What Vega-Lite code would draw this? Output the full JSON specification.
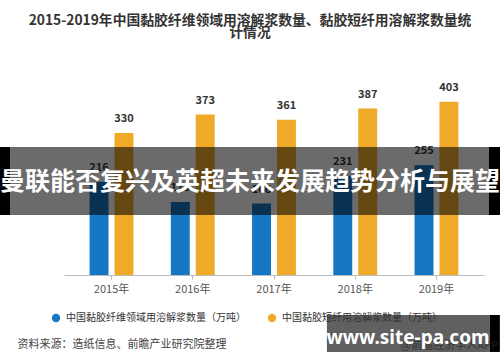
{
  "$schema": "https://vega.github.io/schema/vega-lite/v6.json",
  "width": 420,
  "height": 215,
  "autosize": {"type": "none"},
  "padding": {"left": 64, "top": 60, "right": 16, "bottom": 87},
  "background": "white",
  "config": {
    "font": "Noto Sans CJK SC",
    "view": {"stroke": null}
  },
  "title": {
    "text": ["2015-2019年中国黏胶纤维领域用溶解浆数量、黏胶短纤用溶解浆数量统", "计情况"],
    "fontSize": 13.8,
    "fontWeight": "bold",
    "color": "#333333",
    "anchor": "middle",
    "dx": -24,
    "offset": 20,
    "lineHeight": 12.5
  },
  "datasets": {
    "bars": [
      {"year": "2015年", "series": "中国黏胶纤维领域用溶解浆数量（万吨）", "value": 216},
      {"year": "2016年", "series": "中国黏胶纤维领域用溶解浆数量（万吨）", "value": 170},
      {"year": "2017年", "series": "中国黏胶纤维领域用溶解浆数量（万吨）", "value": 166},
      {"year": "2018年", "series": "中国黏胶纤维领域用溶解浆数量（万吨）", "value": 231},
      {"year": "2019年", "series": "中国黏胶纤维领域用溶解浆数量（万吨）", "value": 255},
      {"year": "2015年", "series": "中国黏胶短纤用溶解浆数量（万吨）", "value": 330},
      {"year": "2016年", "series": "中国黏胶短纤用溶解浆数量（万吨）", "value": 373},
      {"year": "2017年", "series": "中国黏胶短纤用溶解浆数量（万吨）", "value": 361},
      {"year": "2018年", "series": "中国黏胶短纤用溶解浆数量（万吨）", "value": 387},
      {"year": "2019年", "series": "中国黏胶短纤用溶解浆数量（万吨）", "value": 403}
    ]
  },
  "layer": [
    {
      "data": {"name": "bars"},
      "encoding": {
        "x": {
          "field": "year",
          "type": "nominal",
          "scale": {"paddingInner": 0.46, "paddingOuter": 0.315},
          "axis": {
            "title": "资料来源：造纸信息、前瞻产业研究院整理",
            "titleAnchor": "start",
            "titleAlign": "left",
            "titleX": -47,
            "titleY": 69,
            "titleBaseline": "middle",
            "titleFontSize": 11,
            "titleFontWeight": "normal",
            "titleColor": "#444444",
            "labelFontSize": 11,
            "labelColor": "#555555",
            "labelPadding": 4,
            "labelAngle": 0,
            "tickSize": 4,
            "tickColor": "#bbbbbb",
            "domainColor": "#bbbbbb",
            "grid": false
          }
        },
        "xOffset": {
          "field": "series",
          "type": "nominal",
          "sort": ["中国黏胶纤维领域用溶解浆数量（万吨）", "中国黏胶短纤用溶解浆数量（万吨）"],
          "scale": {"paddingInner": 0.24, "paddingOuter": 0}
        },
        "y": {
          "field": "value",
          "type": "quantitative",
          "scale": {"domain": [0, 500], "nice": false},
          "axis": {
            "title": "单位：万吨",
            "values": [0, 100, 200, 300, 400, 500],
            "grid": true,
            "gridColor": "#e2e2e2",
            "domain": false,
            "ticks": false,
            "labelFontSize": 11,
            "labelColor": "#666666",
            "labelPadding": 6,
            "titleFontSize": 10.5,
            "titleFontWeight": "normal",
            "titleColor": "#666666",
            "titlePadding": 7
          }
        },
        "color": {
          "field": "series",
          "type": "nominal",
          "scale": {
            "domain": ["中国黏胶纤维领域用溶解浆数量（万吨）", "中国黏胶短纤用溶解浆数量（万吨）"],
            "range": ["#1677c4", "#f0aa2a"]
          },
          "legend": {
            "orient": "none",
            "legendX": -13,
            "legendY": 253,
            "direction": "horizontal",
            "title": null,
            "symbolType": "circle",
            "symbolSize": 70,
            "symbolStrokeWidth": 0,
            "labelFontSize": 10,
            "labelColor": "#333333",
            "labelLimit": 300,
            "columnPadding": 21,
            "labelOffset": 5
          }
        }
      },
      "layer": [
        {"mark": {"type": "bar"}},
        {
          "mark": {"type": "text", "dy": -9, "fontSize": 11, "fontWeight": "bold", "color": "#333333", "baseline": "bottom"},
          "encoding": {"text": {"field": "value", "type": "quantitative"}, "color": {"value": "#333333"}}
        }
      ]
    },
    {
      "layer": [
        {
          "data": {"values": [{"x0": 0, "x1": 1, "y0": 139.5, "y1": 297.7}]},
          "mark": {"type": "rect", "color": "#000000", "opacity": 0.58, "xOffset": -64, "x2Offset": 16},
          "encoding": {
            "x": {"field": "x0", "type": "quantitative", "scale": {"domain": [0, 1], "nice": false, "zero": false}, "axis": null},
            "x2": {"field": "x1"},
            "y": {"field": "y0", "type": "quantitative", "axis": null},
            "y2": {"field": "y1"}
          }
        },
        {
          "data": {"values": [{"x0": 0, "x1": 0, "y0": 139.5, "y1": 297.7}]},
          "mark": {"type": "rect", "color": "#000000", "opacity": 1, "xOffset": -64, "x2Offset": -54},
          "encoding": {
            "x": {"field": "x0", "type": "quantitative", "axis": null},
            "x2": {"field": "x1"},
            "y": {"field": "y0", "type": "quantitative", "axis": null},
            "y2": {"field": "y1"}
          }
        },
        {
          "data": {"values": [{"x0": 1, "x1": 1, "y0": 139.5, "y1": 297.7}]},
          "mark": {"type": "rect", "color": "#000000", "opacity": 1, "xOffset": 5, "x2Offset": 16},
          "encoding": {
            "x": {"field": "x0", "type": "quantitative", "axis": null},
            "x2": {"field": "x1"},
            "y": {"field": "y0", "type": "quantitative", "axis": null},
            "y2": {"field": "y1"}
          }
        },
        {
          "data": {"values": [{"x": 0.5, "y": 216, "label": "曼联能否复兴及英超未来发展趋势分析与展望"}]},
          "mark": {"type": "text", "color": "white", "fontSize": 25, "fontWeight": "bold", "dx": -24, "baseline": "middle", "align": "center"},
          "encoding": {
            "x": {"field": "x", "type": "quantitative", "axis": null},
            "y": {"field": "y", "type": "quantitative", "axis": null},
            "text": {"field": "label"}
          }
        },
        {
          "data": {"values": [{"x0": 0.626, "x1": 1.014, "y0": -179, "y1": -93}]},
          "mark": {"type": "rect", "color": "#4a4a4a", "opacity": 0.88},
          "encoding": {
            "x": {"field": "x0", "type": "quantitative", "axis": null},
            "x2": {"field": "x1"},
            "y": {"field": "y0", "type": "quantitative", "axis": null},
            "y2": {"field": "y1"}
          }
        },
        {
          "data": {"values": [{"x0": 1.014, "x1": 1.014, "y0": -179, "y1": -93}]},
          "mark": {"type": "rect", "color": "#000000", "opacity": 1, "x2Offset": 10},
          "encoding": {
            "x": {"field": "x0", "type": "quantitative", "axis": null},
            "x2": {"field": "x1"},
            "y": {"field": "y0", "type": "quantitative", "axis": null},
            "y2": {"field": "y1"}
          }
        },
        {
          "data": {"values": [{"x": 1.033, "y": -165, "label": "@前瞻经济学人APP"}]},
          "mark": {"type": "text", "color": "#2a2a2a", "opacity": 0.8, "fontSize": 11, "baseline": "middle", "align": "right"},
          "encoding": {
            "x": {"field": "x", "type": "quantitative", "axis": null},
            "y": {"field": "y", "type": "quantitative", "axis": null},
            "text": {"field": "label"}
          }
        },
        {
          "data": {"values": [{"x": 0.819, "y": -146.5, "label": "www.site-pa.com"}]},
          "mark": {"type": "text", "color": "white", "fontSize": 19, "fontWeight": "bold", "font": "Noto Sans", "baseline": "middle", "align": "center"},
          "encoding": {
            "x": {"field": "x", "type": "quantitative", "axis": null},
            "y": {"field": "y", "type": "quantitative", "axis": null},
            "text": {"field": "label"}
          }
        }
      ]
    }
  ],
  "resolve": {"scale": {"x": "independent"}}
}
